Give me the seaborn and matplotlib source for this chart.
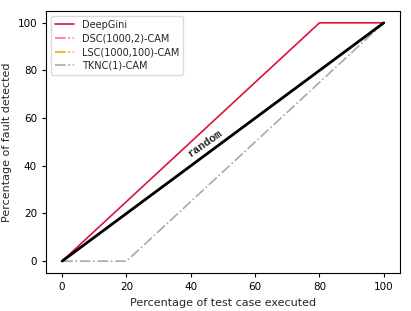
import matplotlib
matplotlib.use("Agg")
import matplotlib.pyplot as plt
from matplotlib import font_manager
import seaborn as sns
import pandas as pd

sns.set_style("ticks")
plt.rcParams['font.family'] = ['DejaVu Sans']
plt.rcParams['font.size'] = 7

deepgini_x = [0, 80, 100]
deepgini_y = [0, 100, 100]
dsc_x = [0, 100]
dsc_y = [0, 100]
lsc_x = [0, 100]
lsc_y = [0, 100]
tknc_x = [0, 20, 100]
tknc_y = [0, 0, 100]
random_x = [0, 100]
random_y = [0, 100]

fig = plt.figure(figsize=(4.11, 3.11), dpi=100)
ax = fig.add_axes([0.112, 0.122, 0.861, 0.843])

sns.lineplot(x=deepgini_x, y=deepgini_y, ax=ax, color='crimson', lw=1.2, label='DeepGini')
sns.lineplot(x=dsc_x, y=dsc_y, ax=ax, color='hotpink', lw=1.2, ls='-.', label='DSC(1000,2)-CAM')
sns.lineplot(x=lsc_x, y=lsc_y, ax=ax, color='orange', lw=1.2, ls='-.', label='LSC(1000,100)-CAM')
sns.lineplot(x=tknc_x, y=tknc_y, ax=ax, color='darkgray', lw=1.2, ls='-.', label='TKNC(1)-CAM')
sns.lineplot(x=random_x, y=random_y, ax=ax, color='black', lw=2, legend=False)
mono = font_manager.FontProperties(family=['Liberation Mono', 'DejaVu Sans Mono'], weight='bold', size=8)
ax.text(44.5, 49.5, 'random', rotation=35, fontproperties=mono,
        ha='center', va='center')

for s in ax.spines.values():
    s.set_visible(True)
    s.set_color('black')
    s.set_linewidth(0.8)
ax.tick_params(direction='out', length=3, width=0.8, colors='black', labelsize=7.5)
ax.set_xticks([0, 20, 40, 60, 80, 100])
ax.set_yticks([0, 20, 40, 60, 80, 100])
ax.set_xlabel('Percentage of test case executed', fontsize=8)
ax.set_ylabel('Percentage of fault detected', fontsize=8)
ax.legend(loc='upper left', fontsize=7, frameon=True, edgecolor='lightgray', labelspacing=0.38)
fig.savefig('out.png', dpi=100)
